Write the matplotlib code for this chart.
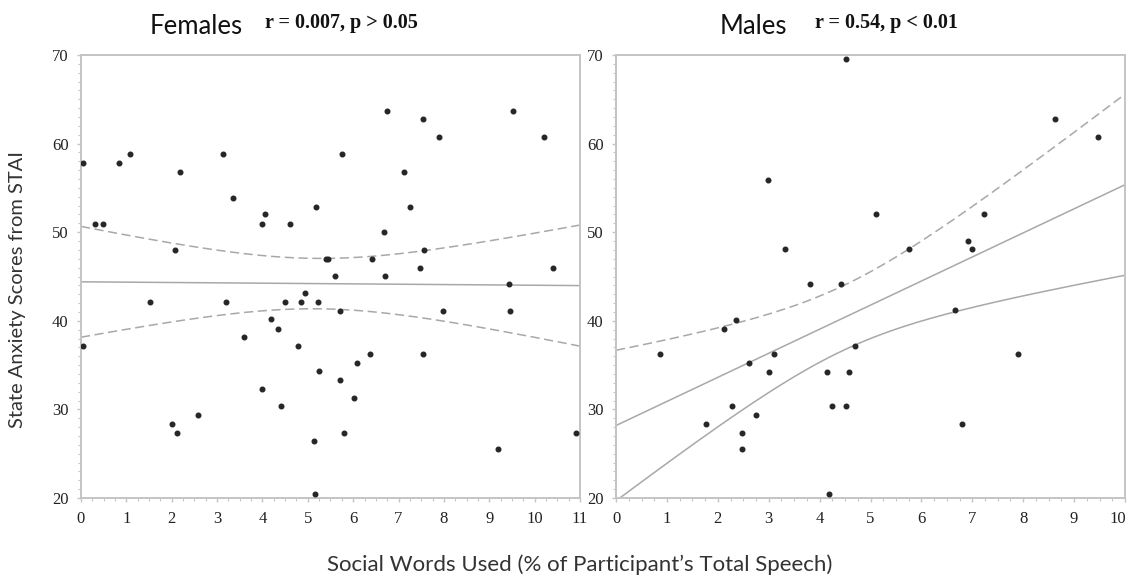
import matplotlib.pyplot as plt
import matplotlib.transforms as mtransforms
import numpy as np

# female data: social words (%) vs STAI state anxiety
fem_x = [0.04, 0.31, 0.49, 0.84, 1.08, 2.18, 2.07, 3.13, 3.36, 4.05, 3.99, 4.60,
         5.19, 5.41, 5.45, 5.59, 5.76, 6.42, 6.68, 6.70, 6.75, 7.12, 7.26, 7.48,
         7.54, 7.56, 7.89, 9.43, 9.52, 10.2, 10.4,
         0.04, 1.52, 2.00, 2.11, 2.58, 3.19, 3.60, 3.99, 4.19, 4.35, 4.41, 4.50,
         4.79, 4.86, 4.93, 5.14, 5.15, 5.23, 5.25, 5.70, 5.70, 5.79, 6.01, 6.09,
         6.37, 7.54, 7.98, 9.19, 9.46, 10.92]
fem_y = [57.8, 50.9, 50.9, 57.8, 58.8, 56.8, 48.0, 58.8, 53.9, 52.0, 50.9, 50.9,
         52.9, 47.0, 47.0, 45.1, 58.8, 47.0, 50.0, 45.1, 63.7, 56.8, 52.9, 46.0,
         62.75, 48.0, 60.8, 44.1, 63.7, 60.8, 46.0,
         37.2, 42.1, 28.4, 27.3, 29.4, 42.1, 38.2, 32.3, 40.2, 39.1, 30.35, 42.1,
         37.2, 42.1, 43.1, 26.4, 20.5, 42.1, 34.3, 41.1, 33.3, 27.3, 31.3, 35.2,
         36.3, 36.3, 41.1, 25.5, 41.1, 27.3]

# male data
male_x = [0.86, 1.76, 2.13, 2.27, 2.35, 2.47, 2.47, 2.61, 2.75, 2.98, 3.00, 3.10,
          3.31, 3.82, 4.14, 4.19, 4.24, 4.41, 4.52, 4.52, 4.58, 4.69, 5.10, 5.76,
          6.66, 6.80, 6.91, 6.99, 7.22, 7.89, 8.62, 9.46]
male_y = [36.3, 28.4, 39.1, 30.35, 40.1, 27.3, 25.5, 35.2, 29.4, 55.9, 34.2, 36.3,
          48.1, 44.1, 34.2, 20.5, 30.35, 44.1, 69.55, 30.35, 34.2, 37.2, 52.0, 48.1,
          41.2, 28.4, 49.0, 48.1, 52.0, 36.3, 62.75, 60.8]

fem_stats = "r = 0.007, p > 0.05"
male_stats = "r = 0.54, p < 0.01"

line_col = "#a8a8a8"
spine_col = "#c4c4c4"
dot_col = "#262626"
serif = "Liberation Serif"
sans = "Lato"


def fit_with_band(ax, x, y, xmax, lower_style):
    x = np.asarray(x)
    y = np.asarray(y)
    n = len(x)
    slope, intercept = np.polyfit(x, y, 1)
    resid = y - (intercept + slope * x)
    s = np.sqrt(np.sum(resid ** 2) / (n - 2))
    t_crit = 2.0
    xs = np.linspace(0, xmax, 200)
    yhat = intercept + slope * xs
    se = s * np.sqrt(1.0 / n + (xs - x.mean()) ** 2 / np.sum((x - x.mean()) ** 2))
    ax.plot(xs, yhat, color=line_col, lw=1.1, zorder=2)
    ax.plot(xs, yhat + t_crit * se, color=line_col, lw=1.1, ls=(0, (6, 3)), zorder=2)
    ax.plot(xs, yhat - t_crit * se, color=line_col, lw=1.1, ls=lower_style, zorder=2)


def style_axes(ax, xmax):
    ax.set_xlim(0, xmax)
    ax.set_ylim(20, 70)
    ax.set_xticks(range(0, xmax + 1))
    ax.set_yticks(range(20, 71, 10))
    ax.set_xticks(np.arange(0, xmax + 0.01, 0.25), minor=True)
    ax.set_yticks(np.arange(20, 70.01, 1), minor=True)
    for sp in ax.spines.values():
        sp.set_color(spine_col)
        sp.set_linewidth(1.4)
    ax.tick_params(which="both", direction="out", color=spine_col, labelcolor="#222222")
    ax.tick_params(which="major", length=3, width=1, pad=6, labelsize=12)
    ax.tick_params(which="minor", length=2, width=0.8)
    for lab in ax.get_xticklabels() + ax.get_yticklabels():
        lab.set_family(serif)


fig = plt.figure(figsize=(11.31, 5.82), dpi=100)
ax1 = fig.add_axes([0.0716, 0.1443, 0.4412, 0.7612])
ax2 = fig.add_axes([0.5447, 0.1443, 0.4500, 0.7612])

fit_with_band(ax1, fem_x, fem_y, 11, (0, (6, 3)))
ax1.plot(fem_x, fem_y, "o", color=dot_col, ms=3.3, zorder=3)
style_axes(ax1, 11)

fit_with_band(ax2, male_x, male_y, 10, "-")
ax2.plot(male_x, male_y, "o", color=dot_col, ms=3.3, zorder=3)
style_axes(ax2, 10)

# nudge the last tick label of the right panel so it stays on the canvas
last = ax2.get_xticklabels()[-1]
last.set_transform(last.get_transform() + mtransforms.ScaledTranslation(-5 / 72, 0, fig.dpi_scale_trans))

fig.text(150 / 1131, 1 - 26 / 582, "Females", family=sans, fontsize=18.5, va="center", color="#111111")
fig.text(265 / 1131, 1 - 23 / 582, fem_stats, family=serif, weight="bold", fontsize=14.5, va="center", color="#111111")
fig.text(720 / 1131, 1 - 26 / 582, "Males", family=sans, fontsize=18.5, va="center", color="#111111")
fig.text(815 / 1131, 1 - 23 / 582, male_stats, family=serif, weight="bold", fontsize=14.5, va="center", color="#111111")

fig.text(18 / 1131, 1 - 290 / 582, "State Anxiety Scores from STAI", family=sans, fontsize=14.5,
         rotation=90, ha="center", va="center", color="#333333")
fig.text(580 / 1131, 1 - 565 / 582, "Social Words Used (% of Participant\u2019s Total Speech)",
         family=sans, fontsize=16, ha="center", va="center", color="#333333")

fig.savefig("out.png", dpi=100)
